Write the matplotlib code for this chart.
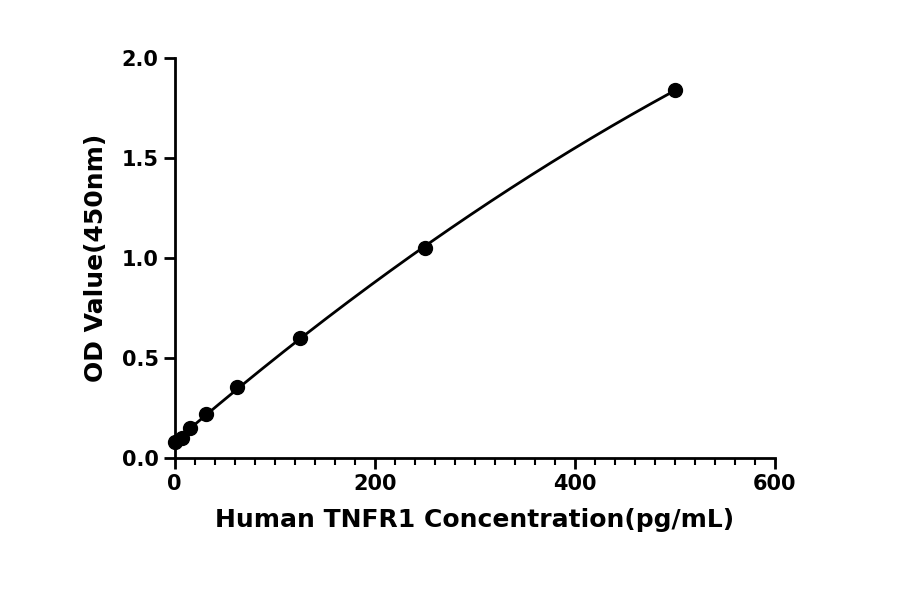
import matplotlib.pyplot as plt
from matplotlib.ticker import MultipleLocator
import numpy as np

# standard curve points
conc = [0, 7.8, 15.6, 31.25, 62.5, 125, 250, 500]
od = [0.08, 0.10, 0.15, 0.22, 0.355, 0.60, 1.05, 1.84]

fig = plt.figure(figsize=(9, 5.94), dpi=100)
ax = fig.add_axes([0.194, 0.229, 0.667, 0.673])

# smooth fitted curve through the standards
coef = np.polyfit(conc, od, 2)
xs = np.linspace(0, 500, 300)
ax.plot(xs, np.polyval(coef, xs), color='black', lw=2, clip_on=False)
ax.plot(conc, od, 'o', color='black', ms=10, clip_on=False, zorder=5)

ax.set_xlim(0, 600)
ax.set_ylim(0, 2.0)
ax.xaxis.set_major_locator(MultipleLocator(200))
ax.xaxis.set_minor_locator(MultipleLocator(20))
ax.set_yticks([0, 0.5, 1.0, 1.5, 2.0])
ax.set_yticklabels(['0.0', '0.5', '1.0', '1.5', '2.0'])

for s in ['top', 'right']:
    ax.spines[s].set_visible(False)
for s in ['left', 'bottom']:
    ax.spines[s].set_linewidth(2)
ax.tick_params(which='major', width=2, length=8, labelsize=15)
ax.tick_params(which='minor', width=1.5, length=5)
for lab in ax.get_xticklabels() + ax.get_yticklabels():
    lab.set_fontweight('bold')

ax.set_xlabel('Human TNFR1 Concentration(pg/mL)', fontsize=18, fontweight='bold', labelpad=10)
ax.set_ylabel('OD Value(450nm)', fontsize=18, fontweight='bold', labelpad=10)

fig.savefig('out.png')
